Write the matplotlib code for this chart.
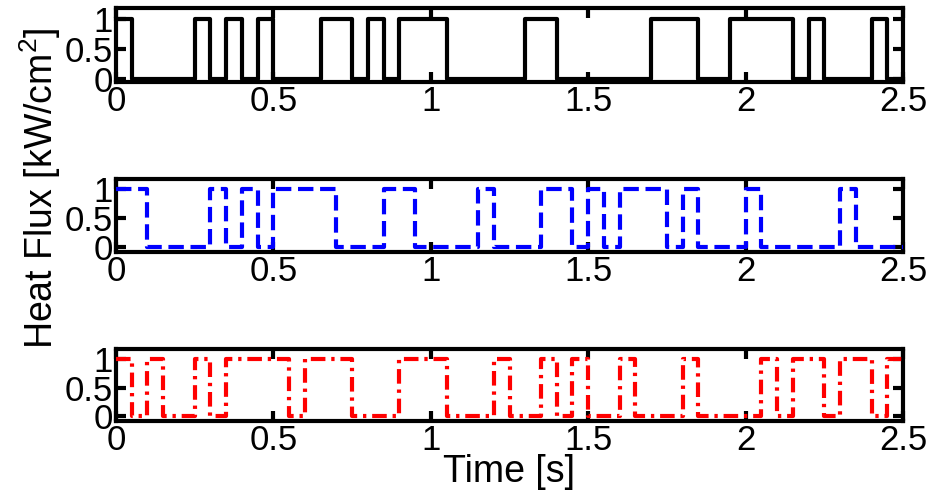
import matplotlib
matplotlib.use('Agg')
import matplotlib.pyplot as plt
import numpy as np

plt.rcParams['font.family'] = ['Liberation Sans', 'DejaVu Sans']
plt.rcParams['mathtext.default'] = 'regular'

# on/off heat flux states, one per 0.05 s slot
dt = 0.05
black_state = [1, 0, 0, 0, 0, 1, 0, 1, 0, 1,
               0, 0, 0, 1, 1, 0, 1, 0, 1, 1,
               1, 0, 0, 0, 0, 0, 1, 1, 0, 0,
               0, 0, 0, 0, 1, 1, 1, 0, 0, 1,
               1, 1, 1, 0, 1, 0, 0, 0, 1, 0]
blue_state = [1, 1, 0, 0, 0, 0, 1, 0, 1, 0,
              1, 1, 1, 1, 0, 0, 0, 1, 1, 0,
              0, 0, 0, 1, 0, 0, 0, 1, 1, 0,
              1, 0, 1, 1, 1, 0, 1, 0, 0, 0,
              1, 0, 0, 0, 0, 0, 1, 0, 0, 0]
red_state = [1, 0, 1, 0, 0, 1, 0, 1, 1, 1,
             1, 0, 1, 1, 1, 0, 0, 0, 1, 1,
             1, 0, 0, 0, 1, 0, 0, 1, 0, 1,
             0, 0, 1, 0, 0, 0, 1, 0, 0, 0,
             0, 1, 0, 1, 1, 0, 1, 1, 0, 1]

xticks = [0, 0.5, 1, 1.5, 2, 2.5]
xticklabels = ['0', '0.5', '1', '1.5', '2', '2.5']
yticks = [0, 0.5, 1]
yticklabels = ['0', '0.5', '1']

series = [
    (black_state, 'k', '-', -0.05),
    (blue_state, 'b', (0, (3.7, 1.6)), -0.08),
    (red_state, 'r', (0, (3.5, 1.4, 0.8, 1.4)), -0.08),
]

W, H = 936, 501
fig = plt.figure(figsize=(W / 100, H / 100), dpi=100)

left, right = 116, 903
boxes = [(8, 82), (179, 252), (349, 421)]

for (state, col, ls, ylo), (top, bot) in zip(series, boxes):
    ax = fig.add_axes([left / W, 1 - bot / H, (right - left) / W, (bot - top) / H])
    t = np.arange(len(state) + 1) * dt
    y = np.append(state, state[-1])
    ax.step(t, y, where='post', color=col, linestyle=ls, linewidth=3,
            clip_on=False, zorder=3)
    ax.set_xlim(0, 2.5)
    ax.set_ylim(ylo, 1.18)
    ax.set_xticks(xticks)
    ax.set_xticklabels(xticklabels)
    ax.set_yticks(yticks)
    ax.set_yticklabels(yticklabels)
    ax.tick_params(direction='in', length=7, width=3, top=True, right=True,
                   labelsize=25, pad=2)
    for s in ax.spines.values():
        s.set_linewidth(3)
        s.set_zorder(2)

fig.text(40 / W, 1 - 188 / H, 'Heat Flux [kW/cm$^2$]', rotation=90,
         ha='center', va='center', fontsize=27)
fig.text((left + right) / 2 / W, 1 - 472 / H, 'Time [s]',
         ha='center', va='center', fontsize=27)

fig.savefig('out.png', dpi=100)
